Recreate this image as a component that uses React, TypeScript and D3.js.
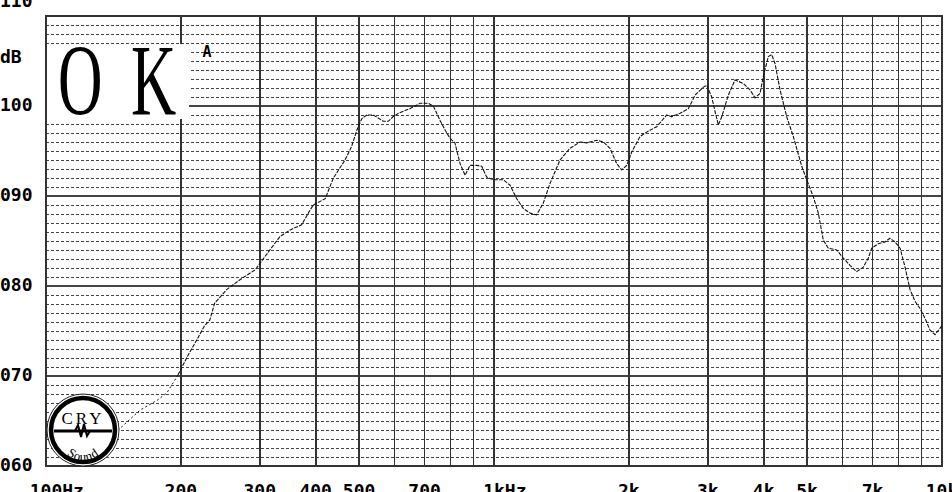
import React from 'react';
import * as d3 from 'd3';

const CURVE_FREQ = [100,145,162,177,186,197,206,217,226,232,238,245,253,271,293,316,333,350,372,385,395,420,438,465,481,494,507,520,538,566,581,595,612,649,684,713,732,758,778,798,818,840,862,884,915,939,963,997,1049,1086,1124,1163,1203,1245,1288,1334,1404,1478,1556,1610,1695,1754,1815,1879,1928,1978,2030,2118,2192,2308,2430,2493,2602,2715,2810,2933,2985,3062,3114,3168,3224,3334,3451,3602,3728,3825,3925,3992,4096,4169,4240,4350,4502,4658,4863,4946,5162,5296,5433,5575,5821,6022,6232,6450,6673,6847,6968,7208,7461,7655,7855,8060,8270,8485,8705,8932,9165,9402,9647,9897,10000];
const CURVE_DB = [63.5,64.0,66.2,67.3,68.1,70.1,72.0,74.0,75.6,76.2,78.1,78.8,79.6,80.7,81.8,84.0,85.5,86.2,86.8,88.1,89.0,89.7,92.0,94.0,95.5,97.3,98.6,99.0,99.0,98.3,98.3,98.8,99.2,99.7,100.3,100.3,100.0,98.4,97.3,96.4,95.9,93.6,92.3,93.4,93.4,93.3,92.1,91.8,91.8,91.2,89.7,88.6,88.1,87.9,89.2,91.4,94.0,95.3,96.0,95.9,96.2,96.0,95.3,93.6,92.9,93.4,94.9,96.6,97.1,97.7,99.0,98.8,99.2,99.7,101.2,102.1,102.3,101.0,99.4,97.9,98.8,101.2,102.9,102.5,101.8,100.9,101.4,103.3,105.5,105.7,104.7,101.8,98.8,96.6,93.3,92.3,89.9,88.1,85.1,84.2,84.0,83.1,82.3,81.6,82.1,83.1,84.2,84.7,84.9,85.3,84.9,84.2,82.1,79.6,78.3,77.5,76.4,75.1,74.6,75.3,75.6];

const GRID_FREQ = [100,200,300,400,500,600,700,800,900,1000,2000,3000,4000,5000,6000,7000,8000,9000,10000];
const X_TICK_FREQ = [100,200,300,400,500,700,1000,2000,3000,4000,5000,7000,10000];
const X_TICK_NUM = ['100','200','300','400','500','700','1k','2k','3k','4k','5k','7k','10k'];
const X_TICK_SUFFIX = ['Hz','','','','','','Hz','','','','','',''];
const Y_TICK_DB = [60,70,80,90,100,110];
const Y_TICK_LABEL = ['060','070','080','090','100','110'];
const LOW_CUTOFF = 197;

const MONO = '"DejaVu Sans Mono", monospace';
const SERIF = '"Liberation Serif", "DejaVu Serif", serif';

export default function App() {
  const x = d3.scaleLog().domain([100, 10000]).range([46, 942]);
  const y = d3.scaleLinear().domain([60, 110]).range([466, 16]);
  const pts = CURVE_FREQ.map((f, i) => ({ f, db: CURVE_DB[i] }));
  const line = d3.line<{ f: number; db: number }>().x(d => x(d.f)).y(d => y(d.db));
  const low = pts.filter(p => p.f <= LOW_CUTOFF);
  const high = pts.filter(p => p.f >= LOW_CUTOFF);
  const dbMinor = d3.range(61, 110).filter(v => v % 10 !== 0);
  const dbMajor = d3.range(70, 110, 10);
  const charW = 10.85;
  const cx = 83, cy = 430;

  return (
    <svg width={952} height={492} style={{ position: 'absolute', left: 0, top: 0, background: '#fff' }}>
      <rect x={0} y={0} width={952} height={492} fill="#fff" />
      {dbMinor.map(v => (
        <line key={'m' + v} x1={x(100)} x2={x(10000)} y1={y(v)} y2={y(v)} stroke="#444" strokeWidth={1} strokeDasharray="3 2" shapeRendering="crispEdges" />
      ))}
      {dbMajor.map(v => (
        <line key={'M' + v} x1={x(100)} x2={x(10000)} y1={y(v)} y2={y(v)} stroke="#444" strokeWidth={2} shapeRendering="crispEdges" />
      ))}
      {GRID_FREQ.map(f => (
        <line key={'v' + f} x1={x(f)} x2={x(f)} y1={y(110)} y2={y(60)} stroke="#333" strokeWidth={1.6} shapeRendering="crispEdges" />
      ))}
      <rect x={47} y={44} width={142} height={75} fill="#fff" />
      <rect x={x(100)} y={y(110)} width={x(10000) - x(100)} height={y(60) - y(110)} fill="none" stroke="#333" strokeWidth={2} shapeRendering="crispEdges" />

      <path d={line(low) || ''} fill="none" stroke="#111" strokeWidth={1} strokeDasharray="2 2.5" />
      <path d={line(high) || ''} fill="none" stroke="#111" strokeWidth={1.1} strokeDasharray="4 1.2" />

      {/* logo */}
      <g>
        <circle cx={cx} cy={cy} r={36} fill="#fff" stroke="#222" strokeWidth={1} />
        <circle cx={cx} cy={cy} r={32} fill="#fff" stroke="#000" strokeWidth={4.5} />
        <text x={cx} y={cy - 6} textAnchor="middle" fontFamily={SERIF} fontSize={17} letterSpacing={3} fill="#000">CRY</text>
        <line x1={cx - 29} x2={cx + 29} y1={cy + 1} y2={cy + 1} stroke="#000" strokeWidth={3} />
        <path d={`M${cx - 8},${cy + 1} L${cx - 5},${cy - 5} L${cx - 2},${cy + 7} L${cx + 1},${cy - 6} L${cx + 4},${cy + 6} L${cx + 7},${cy + 1}`} fill="none" stroke="#000" strokeWidth={2} />
        <path id="logoArc" d={`M${cx - 25},${cy + 6} A 25 25 0 0 0 ${cx + 25},${cy + 6}`} fill="none" />
        <text fontFamily={SERIF} fontSize={13} fill="#000" letterSpacing={0.5}>
          <textPath href="#logoArc" startOffset="50%" textAnchor="middle">Sound</textPath>
        </text>
      </g>

      {/* OK text */}
      <g transform="translate(58,115) scale(0.61,1)">
        <text x={0} y={0} fontFamily={SERIF} fontSize={101} fill="#000">O</text>
      </g>
      <g transform="translate(131,115) scale(0.62,1)">
        <text x={0} y={0} fontFamily={SERIF} fontSize={101} fill="#000">K</text>
      </g>
      <text x={207} y={52} textAnchor="middle" dominantBaseline="middle" fontFamily={MONO} fontWeight="bold" fontSize={15} fill="#000">A</text>

      {/* y labels */}
      {Y_TICK_DB.map((v, i) => (
        <text key={'yl' + v} x={0} y={v === 110 ? y(v) - 14 : y(v)} dominantBaseline="middle" fontFamily={MONO} fontWeight="bold" fontSize={18} fill="#000">{Y_TICK_LABEL[i]}</text>
      ))}
      <text x={0} y={58} dominantBaseline="middle" fontFamily={MONO} fontWeight="bold" fontSize={18} fill="#000">dB</text>

      {/* x labels */}
      {X_TICK_FREQ.map((f, i) => (
        <text key={'xl' + f} x={x(f) - (X_TICK_NUM[i].length * charW) / 2} y={497} fontFamily={MONO} fontWeight="bold" fontSize={18} fill="#000">
          {X_TICK_NUM[i] + X_TICK_SUFFIX[i]}
        </text>
      ))}
    </svg>
  );
}
